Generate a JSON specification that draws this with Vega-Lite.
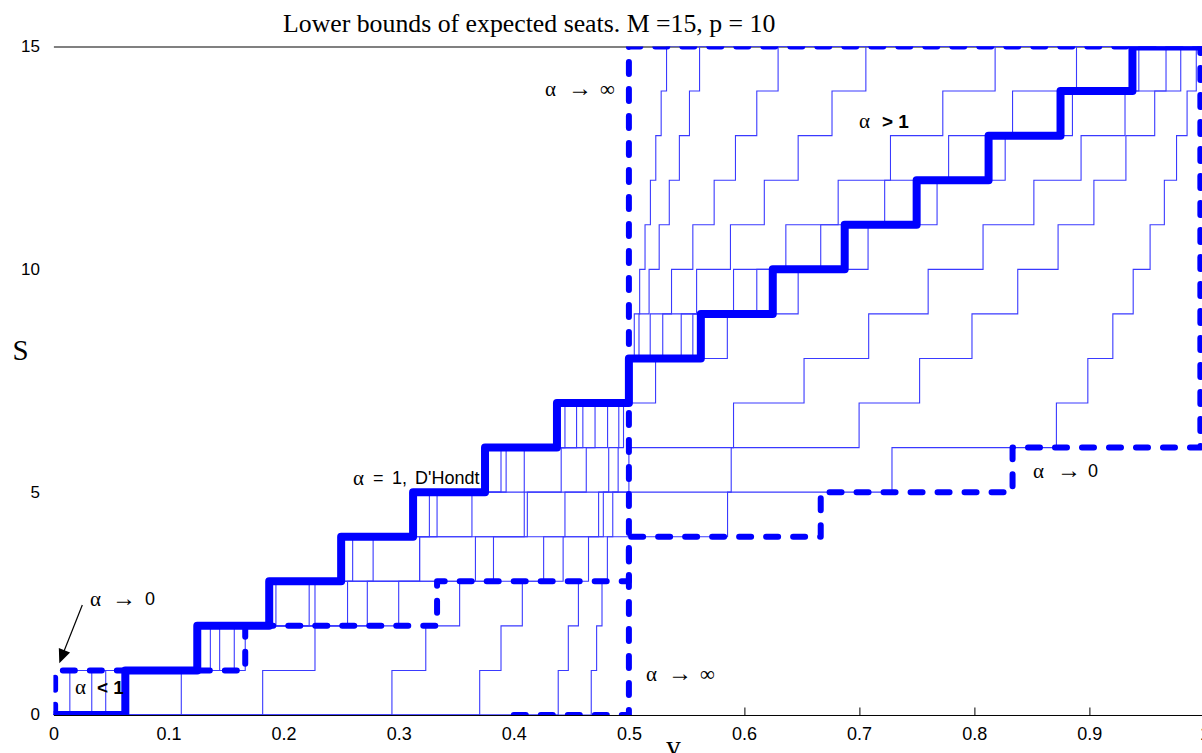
{
  "$schema": "https://vega.github.io/schema/vega-lite/v6.json",
  "width": 1151,
  "height": 668.5,
  "autosize": {"type": "none"},
  "padding": {"left": 53.4, "top": 46.5, "right": 0, "bottom": 38.5},
  "background": "white",
  "config": {"view": {"stroke": null}},
  "title": {
    "text": "Lower bounds of expected seats. M =15, p = 10",
    "anchor": "start",
    "frame": "group",
    "dx": 229.6,
    "offset": -20,
    "baseline": "alphabetic",
    "font": "Liberation Serif",
    "fontSize": 25.8,
    "fontWeight": "normal",
    "color": "black"
  },
  "datasets": {
    "thin": [
      {"a": "0.1", "v": 0, "s": 0}, {"a": "0.1", "v": 0.014286, "s": 1}, {"a": "0.1", "v": 0.157143, "s": 2}, {"a": "0.1", "v": 0.3, "s": 3}, {"a": "0.1", "v": 0.442857, "s": 4}, {"a": "0.1", "v": 0.585714, "s": 5}, {"a": "0.1", "v": 0.728571, "s": 6}, {"a": "0.1", "v": 0.871429, "s": 7}, {"a": "0.1", "v": 0.898734, "s": 8}, {"a": "0.1", "v": 0.920455, "s": 9}, {"a": "0.1", "v": 0.938144, "s": 10}, {"a": "0.1", "v": 0.95283, "s": 11}, {"a": "0.1", "v": 0.965217, "s": 12}, {"a": "0.1", "v": 0.975806, "s": 13}, {"a": "0.1", "v": 0.984962, "s": 14}, {"a": "0.1", "v": 0.992958, "s": 15}, {"a": "0.1", "v": 1, "s": 15},
      {"a": "0.3", "v": 0, "s": 0}, {"a": "0.3", "v": 0.033333, "s": 1}, {"a": "0.3", "v": 0.144444, "s": 2}, {"a": "0.3", "v": 0.255556, "s": 3}, {"a": "0.3", "v": 0.366667, "s": 4}, {"a": "0.3", "v": 0.477778, "s": 5}, {"a": "0.3", "v": 0.588889, "s": 6}, {"a": "0.3", "v": 0.7, "s": 7}, {"a": "0.3", "v": 0.752577, "s": 8}, {"a": "0.3", "v": 0.798077, "s": 9}, {"a": "0.3", "v": 0.837838, "s": 10}, {"a": "0.3", "v": 0.872881, "s": 11}, {"a": "0.3", "v": 0.904, "s": 12}, {"a": "0.3", "v": 0.931818, "s": 13}, {"a": "0.3", "v": 0.956835, "s": 14}, {"a": "0.3", "v": 0.979452, "s": 15}, {"a": "0.3", "v": 1, "s": 15},
      {"a": "0.5", "v": 0, "s": 0}, {"a": "0.5", "v": 0.045455, "s": 1}, {"a": "0.5", "v": 0.136364, "s": 2}, {"a": "0.5", "v": 0.227273, "s": 3}, {"a": "0.5", "v": 0.318182, "s": 4}, {"a": "0.5", "v": 0.409091, "s": 5}, {"a": "0.5", "v": 0.5, "s": 6}, {"a": "0.5", "v": 0.590909, "s": 7}, {"a": "0.5", "v": 0.652174, "s": 8}, {"a": "0.5", "v": 0.708333, "s": 9}, {"a": "0.5", "v": 0.76, "s": 10}, {"a": "0.5", "v": 0.807692, "s": 11}, {"a": "0.5", "v": 0.851852, "s": 12}, {"a": "0.5", "v": 0.892857, "s": 13}, {"a": "0.5", "v": 0.931034, "s": 14}, {"a": "0.5", "v": 0.966667, "s": 15}, {"a": "0.5", "v": 1, "s": 15},
      {"a": "0.9", "v": 0, "s": 0}, {"a": "0.9", "v": 0.06, "s": 1}, {"a": "0.9", "v": 0.126667, "s": 2}, {"a": "0.9", "v": 0.193333, "s": 3}, {"a": "0.9", "v": 0.26, "s": 4}, {"a": "0.9", "v": 0.326667, "s": 5}, {"a": "0.9", "v": 0.393333, "s": 6}, {"a": "0.9", "v": 0.46, "s": 7}, {"a": "0.9", "v": 0.523179, "s": 8}, {"a": "0.9", "v": 0.585526, "s": 9}, {"a": "0.9", "v": 0.647059, "s": 10}, {"a": "0.9", "v": 0.707792, "s": 11}, {"a": "0.9", "v": 0.767742, "s": 12}, {"a": "0.9", "v": 0.826923, "s": 13}, {"a": "0.9", "v": 0.88535, "s": 14}, {"a": "0.9", "v": 0.943038, "s": 15}, {"a": "0.9", "v": 1, "s": 15},
      {"a": "2", "v": 0, "s": 0}, {"a": "2", "v": 0.111111, "s": 1}, {"a": "2", "v": 0.166667, "s": 2}, {"a": "2", "v": 0.222222, "s": 3}, {"a": "2", "v": 0.277778, "s": 4}, {"a": "2", "v": 0.333333, "s": 5}, {"a": "2", "v": 0.388889, "s": 6}, {"a": "2", "v": 0.444444, "s": 7}, {"a": "2", "v": 0.5, "s": 8}, {"a": "2", "v": 0.555556, "s": 9}, {"a": "2", "v": 0.611111, "s": 10}, {"a": "2", "v": 0.666667, "s": 11}, {"a": "2", "v": 0.722222, "s": 12}, {"a": "2", "v": 0.777778, "s": 13}, {"a": "2", "v": 0.833333, "s": 14}, {"a": "2", "v": 0.888889, "s": 15}, {"a": "2", "v": 1, "s": 15},
      {"a": "4", "v": 0, "s": 0}, {"a": "4", "v": 0.181818, "s": 1}, {"a": "4", "v": 0.227273, "s": 2}, {"a": "4", "v": 0.272727, "s": 3}, {"a": "4", "v": 0.318182, "s": 4}, {"a": "4", "v": 0.363636, "s": 5}, {"a": "4", "v": 0.409091, "s": 6}, {"a": "4", "v": 0.454545, "s": 7}, {"a": "4", "v": 0.5, "s": 8}, {"a": "4", "v": 0.545455, "s": 9}, {"a": "4", "v": 0.590909, "s": 10}, {"a": "4", "v": 0.636364, "s": 11}, {"a": "4", "v": 0.681818, "s": 12}, {"a": "4", "v": 0.727273, "s": 13}, {"a": "4", "v": 0.772727, "s": 14}, {"a": "4", "v": 0.818182, "s": 15}, {"a": "4", "v": 1, "s": 15},
      {"a": "10", "v": 0, "s": 0}, {"a": "10", "v": 0.294118, "s": 1}, {"a": "10", "v": 0.323529, "s": 2}, {"a": "10", "v": 0.352941, "s": 3}, {"a": "10", "v": 0.382353, "s": 4}, {"a": "10", "v": 0.411765, "s": 5}, {"a": "10", "v": 0.441176, "s": 6}, {"a": "10", "v": 0.470588, "s": 7}, {"a": "10", "v": 0.5, "s": 8}, {"a": "10", "v": 0.529412, "s": 9}, {"a": "10", "v": 0.558824, "s": 10}, {"a": "10", "v": 0.588235, "s": 11}, {"a": "10", "v": 0.617647, "s": 12}, {"a": "10", "v": 0.647059, "s": 13}, {"a": "10", "v": 0.676471, "s": 14}, {"a": "10", "v": 0.705882, "s": 15}, {"a": "10", "v": 1, "s": 15},
      {"a": "20", "v": 0, "s": 0}, {"a": "20", "v": 0.37037, "s": 1}, {"a": "20", "v": 0.388889, "s": 2}, {"a": "20", "v": 0.407407, "s": 3}, {"a": "20", "v": 0.425926, "s": 4}, {"a": "20", "v": 0.444444, "s": 5}, {"a": "20", "v": 0.462963, "s": 6}, {"a": "20", "v": 0.481481, "s": 7}, {"a": "20", "v": 0.5, "s": 8}, {"a": "20", "v": 0.518519, "s": 9}, {"a": "20", "v": 0.537037, "s": 10}, {"a": "20", "v": 0.555556, "s": 11}, {"a": "20", "v": 0.574074, "s": 12}, {"a": "20", "v": 0.592593, "s": 13}, {"a": "20", "v": 0.611111, "s": 14}, {"a": "20", "v": 0.62963, "s": 15}, {"a": "20", "v": 1, "s": 15},
      {"a": "50", "v": 0, "s": 0}, {"a": "50", "v": 0.438596, "s": 1}, {"a": "50", "v": 0.447368, "s": 2}, {"a": "50", "v": 0.45614, "s": 3}, {"a": "50", "v": 0.464912, "s": 4}, {"a": "50", "v": 0.473684, "s": 5}, {"a": "50", "v": 0.482456, "s": 6}, {"a": "50", "v": 0.491228, "s": 7}, {"a": "50", "v": 0.5, "s": 8}, {"a": "50", "v": 0.508772, "s": 9}, {"a": "50", "v": 0.517544, "s": 10}, {"a": "50", "v": 0.526316, "s": 11}, {"a": "50", "v": 0.535088, "s": 12}, {"a": "50", "v": 0.54386, "s": 13}, {"a": "50", "v": 0.552632, "s": 14}, {"a": "50", "v": 0.561404, "s": 15}, {"a": "50", "v": 1, "s": 15},
      {"a": "100", "v": 0, "s": 0}, {"a": "100", "v": 0.46729, "s": 1}, {"a": "100", "v": 0.471963, "s": 2}, {"a": "100", "v": 0.476636, "s": 3}, {"a": "100", "v": 0.481308, "s": 4}, {"a": "100", "v": 0.485981, "s": 5}, {"a": "100", "v": 0.490654, "s": 6}, {"a": "100", "v": 0.495327, "s": 7}, {"a": "100", "v": 0.5, "s": 8}, {"a": "100", "v": 0.504673, "s": 9}, {"a": "100", "v": 0.509346, "s": 10}, {"a": "100", "v": 0.514019, "s": 11}, {"a": "100", "v": 0.518692, "s": 12}, {"a": "100", "v": 0.523364, "s": 13}, {"a": "100", "v": 0.528037, "s": 14}, {"a": "100", "v": 0.53271, "s": 15}, {"a": "100", "v": 1, "s": 15}
    ],
    "dhondt": [
      {"v": 0, "s": 0}, {"v": 0.0625, "s": 1}, {"v": 0.125, "s": 2}, {"v": 0.1875, "s": 3}, {"v": 0.25, "s": 4}, {"v": 0.3125, "s": 5}, {"v": 0.375, "s": 6}, {"v": 0.4375, "s": 7}, {"v": 0.5, "s": 8}, {"v": 0.5625, "s": 9}, {"v": 0.625, "s": 10}, {"v": 0.6875, "s": 11}, {"v": 0.75, "s": 12}, {"v": 0.8125, "s": 13}, {"v": 0.875, "s": 14}, {"v": 0.9375, "s": 15}, {"v": 1, "s": 15}
    ],
    "limits": [
      {"lim": "zero", "v": 0, "s": 0}, {"lim": "zero", "v": 0.0015, "s": 1}, {"lim": "zero", "v": 0.166667, "s": 2}, {"lim": "zero", "v": 0.333333, "s": 3}, {"lim": "zero", "v": 0.5, "s": 4}, {"lim": "zero", "v": 0.666667, "s": 5}, {"lim": "zero", "v": 0.833333, "s": 6}, {"lim": "zero", "v": 0.9965, "s": 15},
      {"lim": "inf", "v": 0.4, "s": 0}, {"lim": "inf", "v": 0.5, "s": 15}, {"lim": "inf", "v": 1, "s": 15}
    ],
    "arrow": [
      {"v": 0.02511, "s": 2.468}, {"v": 0.00877, "s": 1.402}
    ],
    "arrowhead": [
      {"v": 0.00513, "s": 1.16}
    ],
    "sym": [
      {"v": 0.42711, "s": 14.02, "t": "α"}, {"v": 0.47489, "s": 14.02, "t": "∞"},
      {"v": 0.51486, "s": 0.9, "t": "α"}, {"v": 0.56177, "s": 0.9, "t": "∞"},
      {"v": 0.85109, "s": 5.46, "t": "α"},
      {"v": 0.0318, "s": 2.58, "t": "α"},
      {"v": 0.01877, "s": 0.61, "t": "α"},
      {"v": 0.69991, "s": 13.31, "t": "α"},
      {"v": 0.2603, "s": 5.3, "t": "α"}
    ],
    "arrows": [
      {"v": 0.44709, "s": 14.02, "t": "→"},
      {"v": 0.53397, "s": 0.9, "t": "→"},
      {"v": 0.87193, "s": 5.46, "t": "→"},
      {"v": 0.05091, "s": 2.58, "t": "→"}
    ],
    "sans": [
      {"v": 0.89887, "s": 5.46, "t": "0"},
      {"v": 0.07958, "s": 2.58, "t": "0"},
      {"v": 0.27767, "s": 5.3, "t": "="},
      {"v": 0.29418, "s": 5.3, "t": "1,"},
      {"v": 0.31416, "s": 5.3, "t": "D'Hondt"}
    ],
    "bold": [
      {"v": 0.03788, "s": 0.61, "t": "< 1"},
      {"v": 0.7199, "s": 13.31, "t": "> 1"}
    ]
  },
  "layer": [
    {
      "data": {"name": "thin"},
      "mark": {"type": "line", "interpolate": "step-after", "color": "#3a3aff", "strokeWidth": 1.1, "clip": true},
      "encoding": {
        "x": {
          "field": "v", "type": "quantitative",
          "scale": {"domain": [0, 1], "nice": false, "zero": false},
          "axis": {
            "orient": "bottom",
            "values": [0, 0.1, 0.2, 0.3, 0.4, 0.5, 0.6, 0.7, 0.8, 0.9, 1],
            "format": "~g",
            "labelFont": "Liberation Sans", "labelFontSize": 18, "labelColor": "black",
            "labelFlush": false, "labelPadding": 19,
            "tickSize": -8, "tickWidth": 1,
            "tickColor": {"condition": {"test": "datum.value > 0.55", "value": "black"}, "value": "transparent"},
            "domainColor": "black", "domainWidth": 1, "grid": false,
            "title": "v",
            "titleFont": "Liberation Serif", "titleFontSize": 29, "titleFontWeight": "normal", "titleColor": "black",
            "titleX": 619.6, "titleY": 40.5, "titleBaseline": "alphabetic", "titleAlign": "center"
          }
        },
        "y": {
          "field": "s", "type": "quantitative",
          "scale": {"domain": [0, 15], "nice": false, "zero": false},
          "axis": {
            "values": [0, 5, 10, 15],
            "labelFont": "Liberation Sans", "labelFontSize": 17, "labelColor": "black",
            "labelPadding": 14, "labelFlush": false,
            "ticks": false, "domain": false, "grid": false,
            "title": "S",
            "titleFont": "Liberation Serif", "titleFontSize": 29, "titleFontWeight": "normal", "titleColor": "black",
            "titleAngle": 0, "titleX": -33.4, "titleY": 303.5, "titleAlign": "center", "titleBaseline": "middle"
          }
        },
        "detail": {"field": "a"}
      }
    },
    {
      "data": {"name": "dhondt"},
      "mark": {"type": "line", "interpolate": "step-after", "color": "#0000ff", "strokeWidth": 8, "strokeJoin": "round", "clip": true},
      "encoding": {
        "x": {"field": "v", "type": "quantitative", "axis": {"orient": "top", "labels": false, "ticks": false, "domain": true, "domainColor": "black", "domainWidth": 1, "grid": false, "title": null}},
        "y": {"field": "s", "type": "quantitative"}
      }
    },
    {
      "data": {"name": "limits"},
      "mark": {"type": "line", "interpolate": "step-after", "color": "#0000ff", "strokeWidth": 6, "strokeDash": [12, 15], "strokeCap": "round", "strokeJoin": "round", "clip": true},
      "encoding": {
        "x": {"field": "v", "type": "quantitative", "axis": null},
        "y": {"field": "s", "type": "quantitative"},
        "detail": {"field": "lim"}
      }
    },
    {
      "data": {"name": "arrow"},
      "mark": {"type": "line", "color": "black", "strokeWidth": 1.2},
      "encoding": {
        "x": {"field": "v", "type": "quantitative", "axis": null},
        "y": {"field": "s", "type": "quantitative"}
      }
    },
    {
      "data": {"name": "arrowhead"},
      "mark": {"type": "point", "shape": "M0,0L-0.43,-1L0.43,-1Z", "size": 784, "angle": 21.5, "filled": true, "color": "black", "opacity": 1, "strokeWidth": 0},
      "encoding": {
        "x": {"field": "v", "type": "quantitative", "axis": null},
        "y": {"field": "s", "type": "quantitative"}
      }
    },
    {
      "data": {"name": "sym"},
      "mark": {"type": "text", "font": "Liberation Serif", "fontSize": 21, "align": "left", "baseline": "middle", "color": "black"},
      "encoding": {
        "x": {"field": "v", "type": "quantitative", "axis": null},
        "y": {"field": "s", "type": "quantitative"},
        "text": {"field": "t"}
      }
    },
    {
      "data": {"name": "arrows"},
      "mark": {"type": "text", "font": "Liberation Serif", "fontSize": 24, "align": "left", "baseline": "middle", "dy": -1, "color": "black"},
      "encoding": {
        "x": {"field": "v", "type": "quantitative", "axis": null},
        "y": {"field": "s", "type": "quantitative"},
        "text": {"field": "t"}
      }
    },
    {
      "data": {"name": "sans"},
      "mark": {"type": "text", "font": "Liberation Sans", "fontSize": 18, "align": "left", "baseline": "middle", "color": "black"},
      "encoding": {
        "x": {"field": "v", "type": "quantitative", "axis": null},
        "y": {"field": "s", "type": "quantitative"},
        "text": {"field": "t"}
      }
    },
    {
      "data": {"name": "bold"},
      "mark": {"type": "text", "font": "Liberation Sans", "fontSize": 19, "fontWeight": "bold", "align": "left", "baseline": "middle", "color": "black"},
      "encoding": {
        "x": {"field": "v", "type": "quantitative", "axis": null},
        "y": {"field": "s", "type": "quantitative"},
        "text": {"field": "t"}
      }
    }
  ],
  "resolve": {"axis": {"x": "independent"}}
}
